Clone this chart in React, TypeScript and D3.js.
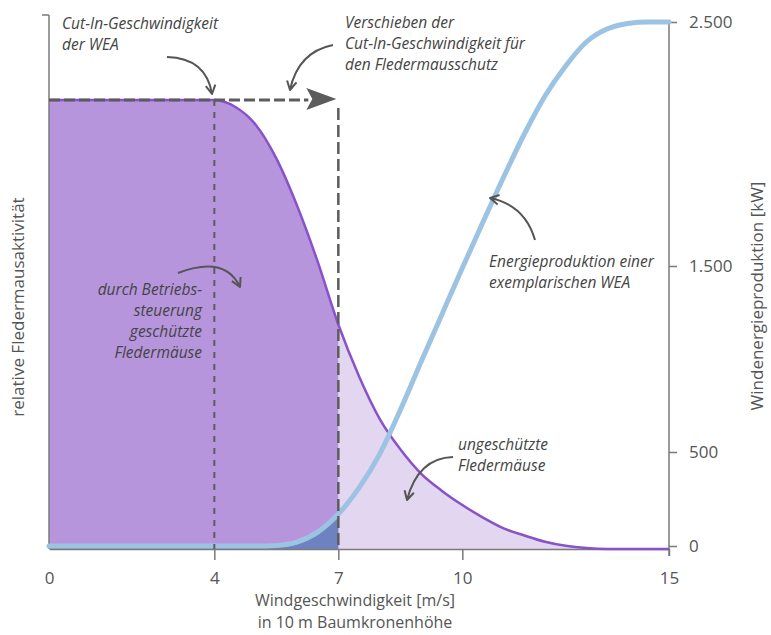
import React, { useEffect, useRef } from "react";
import * as d3 from "d3";

// wind speed [m/s] and the two curves
const windSpeed = [0, 1, 2, 3, 4, 4.5, 5, 5.5, 6, 6.5, 7, 7.5, 8, 8.5, 9, 9.5, 10, 10.5, 11, 11.5, 12, 12.5, 13, 13.5, 14, 14.5, 15];
const batActivity = [1, 1, 1, 1, 1, 0.985, 0.945, 0.87, 0.765, 0.64, 0.5, 0.385, 0.29, 0.222, 0.168, 0.13, 0.098, 0.07, 0.046, 0.03, 0.016, 0.007, 0.002, 0, 0, 0, 0];
const powerKW = [0, 0, 0, 0, 0, 0, 0, 3, 21, 74, 170, 309, 489, 726, 984, 1237, 1489, 1680, 1865, 2041, 2197, 2320, 2418, 2471, 2494, 2500, 2500];

const xTicks = [0, 4, 7, 10, 15];
const powerTicks = [0, 500, 1500, 2500];
const powerTickLabels = ["0", "500", "1.500", "2.500"];

const cutIn = 4;
const cutInShifted = 7;

const W = 771, H = 635;
const font = "'Open Sans', sans-serif";

const Chart = () => {
    const ref = useRef(null);

    useEffect(() => {
        const svg = d3.select(ref.current);
        svg.selectAll("*").remove();

        const x = d3.scaleLinear().domain([0, 15]).range([49, 669]);
        const yBat = d3.scaleLinear().domain([0, 1]).range([549, 100]);
        // the right axis in the original is not evenly spaced
        const yPow = d3.scaleLinear().domain(powerTicks).range([546, 452, 266, 22]);

        const rows = windSpeed.map((w, i) => ({ w, bat: batActivity[i], kw: powerKW[i] }));
        const base = yBat(0);

        const defs = svg.append("defs");
        defs.append("clipPath").attr("id", "clipLeft")
            .append("rect").attr("x", 0).attr("y", 0).attr("width", x(cutInShifted)).attr("height", H);
        defs.append("clipPath").attr("id", "clipRight")
            .append("rect").attr("x", x(cutInShifted)).attr("y", 0).attr("width", W).attr("height", H);

        const batArea = d3.area().x(d => x(d.w)).y0(base).y1(d => yBat(d.bat)).curve(d3.curveMonotoneX);
        const batLine = d3.line().x(d => x(d.w)).y(d => yBat(d.bat)).curve(d3.curveMonotoneX);
        const powArea = d3.area().x(d => x(d.w)).y0(base).y1(d => yPow(d.kw)).curve(d3.curveMonotoneX);
        const powLine = d3.line().x(d => x(d.w)).y(d => yPow(d.kw)).curve(d3.curveMonotoneX);

        svg.append("path").datum(rows).attr("d", batArea).attr("fill", "#e3d6f1").attr("clip-path", "url(#clipRight)");
        svg.append("path").datum(rows).attr("d", batArea).attr("fill", "#b795dc").attr("clip-path", "url(#clipLeft)");
        svg.append("path").datum(rows).attr("d", powArea).attr("fill", "#6e82c2").attr("clip-path", "url(#clipLeft)");

        const grey = "#7a7a7a";
        // axes
        svg.append("line").attr("x1", x(0)).attr("x2", x(0)).attr("y1", 15).attr("y2", base).attr("stroke", grey).attr("stroke-width", 1.5);
        svg.append("line").attr("x1", x(0) - 7).attr("x2", x(0)).attr("y1", 15).attr("y2", 15).attr("stroke", grey).attr("stroke-width", 1.5);
        svg.append("line").attr("x1", x(15)).attr("x2", x(15)).attr("y1", yPow(2500)).attr("y2", base + 7).attr("stroke", grey).attr("stroke-width", 1.5);

        const xAxis = svg.append("g").attr("transform", `translate(0,${base})`)
            .call(d3.axisBottom(x).tickValues(xTicks).tickSize(11).tickSizeOuter(0).tickPadding(12));
        xAxis.select(".domain").attr("stroke", grey).attr("stroke-width", 1.5);
        xAxis.selectAll(".tick line").attr("stroke", grey).attr("stroke-width", 1.5)
            .attr("y2", d => (d === 0 ? 0 : d === 15 ? 7 : 11));
        xAxis.selectAll(".tick text").attr("font-size", 17).attr("fill", "#555").attr("font-family", font);

        const yAxis = svg.append("g").attr("transform", `translate(${x(15)},0)`)
            .call(d3.axisRight(yPow).tickValues(powerTicks).tickSize(8).tickPadding(12)
                .tickFormat((d, i) => powerTickLabels[i]));
        yAxis.select(".domain").remove();
        yAxis.selectAll(".tick line").attr("stroke", grey).attr("stroke-width", 1.5);
        yAxis.selectAll(".tick text").attr("font-size", 17).attr("fill", "#555").attr("font-family", font);

        // curves
        svg.append("path").datum(rows).attr("d", batLine).attr("fill", "none").attr("stroke", "#8852c9").attr("stroke-width", 2.5);
        svg.append("path").datum(rows).attr("d", powLine).attr("fill", "none").attr("stroke", "#9dc3e2").attr("stroke-width", 5).attr("stroke-linecap", "round");

        // dashed markers for the cut-in speeds
        const dark = "#5c5c5c";
        svg.append("line").attr("x1", x(cutIn)).attr("x2", x(cutIn)).attr("y1", yBat(1)).attr("y2", base)
            .attr("stroke", dark).attr("stroke-width", 2).attr("stroke-dasharray", "6,6");
        svg.append("line").attr("x1", x(cutInShifted)).attr("x2", x(cutInShifted)).attr("y1", yBat(1) + 8).attr("y2", base)
            .attr("stroke", dark).attr("stroke-width", 2.5).attr("stroke-dasharray", "12,5");
        svg.append("line").attr("x1", x(0)).attr("x2", x(cutInShifted) - 30).attr("y1", yBat(1)).attr("y2", yBat(1))
            .attr("stroke", dark).attr("stroke-width", 3).attr("stroke-dasharray", "11,4");
        const tipX = x(cutInShifted) - 2, tipY = yBat(1) - 1;
        svg.append("path").attr("d", `M${tipX - 30},${tipY - 11} L${tipX},${tipY} L${tipX - 30},${tipY + 11} L${tipX - 24},${tipY} Z`).attr("fill", dark);

        // curved annotation arrows
        const arrow = (sx, sy, cx, cy, ex, ey) => {
            svg.append("path").attr("d", `M${sx},${sy} Q${cx},${cy} ${ex},${ey}`)
                .attr("fill", "none").attr("stroke", "#555").attr("stroke-width", 2);
            const a = Math.atan2(ey - cy, ex - cx);
            const len = 10, spread = 0.5;
            const p1 = [ex - len * Math.cos(a - spread), ey - len * Math.sin(a - spread)];
            const p2 = [ex - len * Math.cos(a + spread), ey - len * Math.sin(a + spread)];
            svg.append("path").attr("d", `M${p1[0]},${p1[1]} L${ex},${ey} L${p2[0]},${p2[1]}`)
                .attr("fill", "none").attr("stroke", "#555").attr("stroke-width", 2).attr("stroke-linejoin", "round");
        };
        arrow(167, 57, 206, 58, 212, 94);
        arrow(333, 45, 298, 52, 290, 90);
        arrow(178, 273, 225, 255, 240, 287);
        arrow(535, 240, 525, 205, 490, 198);
        arrow(453, 457, 418, 458, 407, 500);

        const note = (lines, tx, ty, anchor) => {
            const t = svg.append("text").attr("x", tx).attr("y", ty).attr("text-anchor", anchor)
                .attr("font-family", font).attr("font-style", "italic")
                .attr("font-size", 15.5).attr("fill", "#444");
            lines.forEach((l, i) => t.append("tspan").attr("x", tx).attr("dy", i === 0 ? 0 : 21).text(l));
        };
        note(["Cut-In-Geschwindigkeit", "der WEA"], 62, 29, "start");
        note(["Verschieben der", "Cut-In-Geschwindigkeit für", "den Fledermausschutz"], 345, 28, "start");
        note(["durch Betriebs-", "steuerung", "geschützte", "Fledermäuse"], 202, 295, "end");
        note(["Energieproduktion einer", "exemplarischen WEA"], 489, 267, "start");
        note(["ungeschützte", "Fledermäuse"], 458, 450, "start");

        // axis titles
        svg.append("text").attr("x", 355).attr("y", 606).attr("text-anchor", "middle")
            .attr("font-family", font).attr("font-size", 16).attr("fill", "#555")
            .text("Windgeschwindigkeit [m/s]");
        svg.append("text").attr("x", 355).attr("y", 628).attr("text-anchor", "middle")
            .attr("font-family", font).attr("font-size", 16).attr("fill", "#555")
            .text("in 10 m Baumkronenhöhe");

        svg.append("text").attr("transform", "translate(24,307) rotate(-90)").attr("text-anchor", "middle")
            .attr("font-family", font).attr("font-size", 17).attr("fill", "#555")
            .text("relative Fledermausaktivität");
        svg.append("text").attr("transform", "translate(763,296) rotate(-90)").attr("text-anchor", "middle")
            .attr("font-family", font).attr("font-size", 17).attr("fill", "#555")
            .text("Windenergieproduktion [kW]");
    }, []);

    return <svg ref={ref} width={W} height={H} style={{ position: "absolute", left: 0, top: 0, background: "#fff" }}></svg>;
};

export default function App() {
    return <Chart />;
}
